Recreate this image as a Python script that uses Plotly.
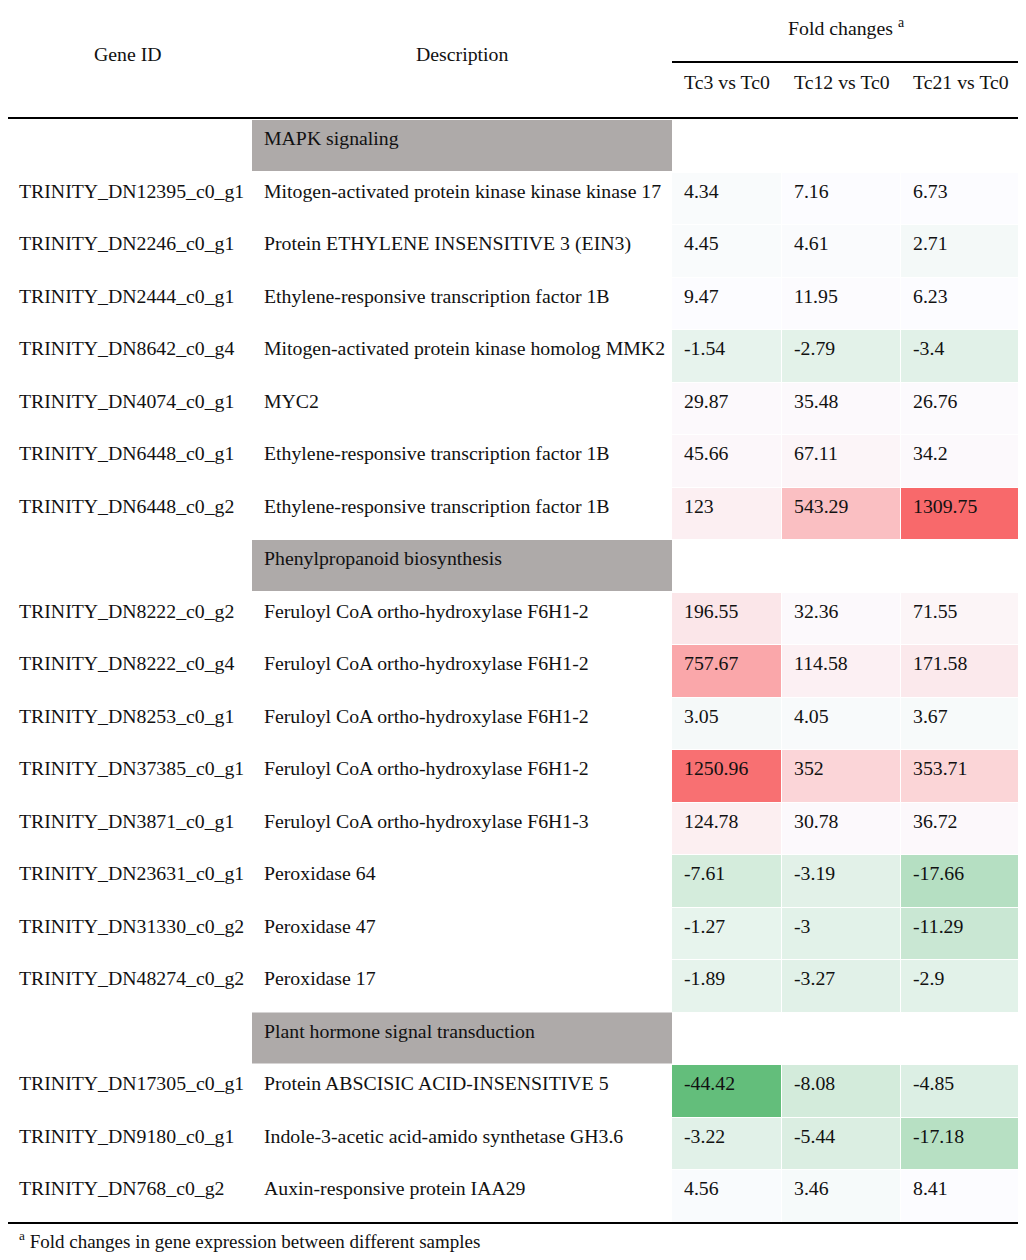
import numpy as np
import plotly.graph_objects as go

sections = ["MAPK signaling", "Phenylpropanoid biosynthesis", "Plant hormone signal transduction"]
section_sizes = [7, 8, 3]

gene_ids = [
    "TRINITY_DN12395_c0_g1", "TRINITY_DN2246_c0_g1", "TRINITY_DN2444_c0_g1",
    "TRINITY_DN8642_c0_g4", "TRINITY_DN4074_c0_g1", "TRINITY_DN6448_c0_g1",
    "TRINITY_DN6448_c0_g2",
    "TRINITY_DN8222_c0_g2", "TRINITY_DN8222_c0_g4", "TRINITY_DN8253_c0_g1",
    "TRINITY_DN37385_c0_g1", "TRINITY_DN3871_c0_g1", "TRINITY_DN23631_c0_g1",
    "TRINITY_DN31330_c0_g2", "TRINITY_DN48274_c0_g2",
    "TRINITY_DN17305_c0_g1", "TRINITY_DN9180_c0_g1", "TRINITY_DN768_c0_g2",
]
descriptions = [
    "Mitogen-activated protein kinase kinase kinase 17",
    "Protein ETHYLENE INSENSITIVE 3 (EIN3)",
    "Ethylene-responsive transcription factor 1B",
    "Mitogen-activated protein kinase homolog MMK2",
    "MYC2",
    "Ethylene-responsive transcription factor 1B",
    "Ethylene-responsive transcription factor 1B",
    "Feruloyl CoA ortho-hydroxylase F6H1-2",
    "Feruloyl CoA ortho-hydroxylase F6H1-2",
    "Feruloyl CoA ortho-hydroxylase F6H1-2",
    "Feruloyl CoA ortho-hydroxylase F6H1-2",
    "Feruloyl CoA ortho-hydroxylase F6H1-3",
    "Peroxidase 64",
    "Peroxidase 47",
    "Peroxidase 17",
    "Protein ABSCISIC ACID-INSENSITIVE 5",
    "Indole-3-acetic acid-amido synthetase GH3.6",
    "Auxin-responsive protein IAA29",
]
comparisons = ["Tc3 vs Tc0", "Tc12 vs Tc0", "Tc21 vs Tc0"]
tc3 = [4.34, 4.45, 9.47, -1.54, 29.87, 45.66, 123,
       196.55, 757.67, 3.05, 1250.96, 124.78, -7.61, -1.27, -1.89,
       -44.42, -3.22, 4.56]
tc12 = [7.16, 4.61, 11.95, -2.79, 35.48, 67.11, 543.29,
        32.36, 114.58, 4.05, 352, 30.78, -3.19, -3, -3.27,
        -8.08, -5.44, 3.46]
tc21 = [6.73, 2.71, 6.23, -3.4, 26.76, 34.2, 1309.75,
        71.55, 171.58, 3.67, 353.71, 36.72, -17.66, -11.29, -2.9,
        -4.85, -17.18, 8.41]

FONT = "Liberation Serif, Times New Roman, serif"
FS = 19.8
row_h = 52.5
grid_top = 120
col_edges = [672, 782, 901, 1020]
PAD = 8  # page body margin

# build table rows: section header rows get no colour
rows = []
k = 0
for s, n in zip(sections, section_sizes):
    rows.append(("section", s))
    for _ in range(n):
        rows.append(("data", k))
        k += 1

z = []
for kind, v in rows:
    if kind == "section":
        z.append([None, None, None])
    else:
        z.append([tc3[v], tc12[v], tc21[v]])

y_edges = [grid_top + row_h * i for i in range(len(rows) + 1)]

# excel style 3-colour scale, white at the median
allv = np.array(tc3 + tc12 + tc21)
zmin, zmax = allv.min(), allv.max()
mid = (np.percentile(allv, 50) - zmin) / (zmax - zmin)
scale = [[0, "#63BE7B"], [mid, "#FCFCFF"], [1, "#F8696B"]]

fig = go.Figure()
fig.add_trace(go.Heatmap(
    z=z, x=col_edges, y=y_edges, zmin=zmin, zmax=zmax,
    colorscale=scale, showscale=False, xgap=1, ygap=1, hoverinfo="skip",
))

shapes = []
annotations = []

def txt(x, y, s, anchor="left", size=FS):
    annotations.append(dict(x=x, y=y, text=s, showarrow=False, xanchor=anchor,
                            yanchor="middle", font=dict(family=FONT, size=size, color="#111")))

for i, (kind, v) in enumerate(rows):
    top = y_edges[i]
    ty = top + 18
    if kind == "section":
        shapes.append(dict(type="rect", x0=252, x1=672, y0=top, y1=top + 51,
                           fillcolor="#AEAAA9", line=dict(width=0), layer="below"))
        txt(262, ty, v)
    else:
        txt(17, ty, gene_ids[v])
        txt(262, ty, descriptions[v])
        for j, vals in enumerate([tc3, tc12, tc21]):
            txt(col_edges[j] + 10, ty, f"{vals[v]:g}")

# header
txt(128, 54, "Gene ID", "center")
txt(462, 54, "Description", "center")
txt(846, 27, "Fold changes <sup>a</sup>", "center")
for j, c in enumerate(comparisons):
    txt((col_edges[j] + col_edges[j + 1]) / 2, 82, c, "center")
txt(17, 1240, "<sup>a</sup> Fold changes in gene expression between different samples", size=19)

for y0, x0 in [(7, 6), (118, 6), (1223, 6), (62, 672)]:
    shapes.append(dict(type="line", x0=x0, x1=1020, y0=y0, y1=y0,
                       line=dict(color="black", width=2.2)))

W, H = 1026 - 2 * PAD, 1260 - 2 * PAD
fig.update_layout(
    width=W, height=H, margin=dict(l=0, r=0, t=0, b=0),
    plot_bgcolor="white", paper_bgcolor="white",
    xaxis=dict(range=[PAD, PAD + W], visible=False, fixedrange=True),
    yaxis=dict(range=[PAD + H, PAD], visible=False, fixedrange=True),
    shapes=shapes, annotations=annotations, showlegend=False,
)
fig.write_html("out.html")
